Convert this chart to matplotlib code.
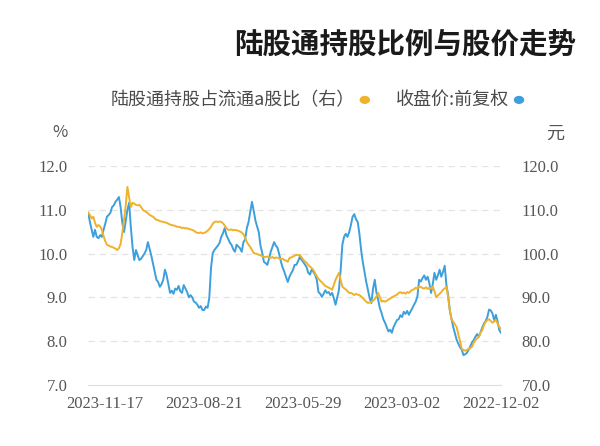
import numpy as np
import pandas as pd
import matplotlib
matplotlib.use('Agg')
import matplotlib.pyplot as plt

plt.rcParams['font.family'] = ['Noto Sans CJK SC', 'DejaVu Sans']

# trading calendar (SSE holidays removed)
holidays = ['2023-01-02', '2023-01-23', '2023-01-24', '2023-01-25', '2023-01-26',
            '2023-01-27', '2023-04-05', '2023-05-01', '2023-05-02', '2023-05-03',
            '2023-06-22', '2023-06-23', '2023-09-29', '2023-10-02', '2023-10-03',
            '2023-10-04', '2023-10-05', '2023-10-06']
days = pd.bdate_range('2022-12-02', '2023-12-01')
days = days[~days.isin(pd.to_datetime(holidays))]

tick_dates = ['2022-12-02', '2023-03-02', '2023-05-29', '2023-08-21', '2023-11-17']

# 收盘价:前复权 (元)
price = [81.9, 82.5, 84.5, 86.0, 84.8, 86.3, 87.0, 87.2, 85.5, 84.6,
         84.0, 83.1, 82.0, 81.0, 81.6, 81.0, 80.2, 79.7, 78.8, 78.0,
         77.3, 77.0, 76.8, 78.0, 78.6, 79.4, 80.3, 81.8, 83.2, 85.0,
         87.0, 90.5, 92.8, 97.2, 95.8, 94.7, 96.3, 95.0, 94.0, 95.6,
         93.0, 91.0, 93.2, 94.7, 94.0, 95.0, 94.4, 93.6, 94.0, 90.2,
         89.0, 88.3, 87.5, 86.8, 86.0, 86.9, 86.2, 86.7, 85.5, 85.9,
         85.0, 84.8, 84.0, 83.2, 81.9, 82.6, 82.2, 83.2, 84.2, 85.0,
         86.4, 87.5, 89.4, 91.0, 94.0, 92.0, 88.7, 89.8, 91.7, 93.5,
         95.8, 98.0, 100.8, 104.5, 107.2, 107.8, 109.0, 108.4, 106.5, 104.9,
         103.8, 104.5, 103.8, 102.0, 96.3, 91.7, 90.0, 88.3, 89.8, 91.0,
         90.5, 91.2, 91.0, 91.6, 90.8, 90.1, 90.8, 91.2, 94.0, 95.2,
         95.8, 96.3, 95.2, 95.6, 96.9, 97.5, 98.1, 98.6, 99.2, 98.2,
         97.4, 97.4, 96.2, 95.5, 94.7, 93.5, 94.6, 95.8, 96.8, 98.1,
         99.8, 101.3, 101.8, 102.6, 101.5, 100.4, 98.8, 97.4, 97.8, 98.1,
         100.2, 101.8, 104.9, 106.2, 107.6, 109.8, 111.8, 109.5, 107.2, 105.8,
         103.2, 102.6, 100.4, 101.2, 101.6, 102.0, 100.4, 101.0, 102.0, 102.5,
         103.4, 104.2, 105.8, 104.6, 103.8, 102.4, 101.8, 101.3, 100.8, 100.1,
         96.7, 89.9, 87.6, 87.9, 87.1, 87.1, 88.0, 87.6, 88.3, 88.8,
         89.0, 90.0, 90.5, 90.0, 91.2, 92.0, 92.8, 91.0, 91.4, 92.6,
         91.7, 92.0, 90.8, 91.5, 91.0, 93.0, 95.0, 96.3, 94.0, 93.0,
         92.4, 93.5, 94.0, 95.8, 97.6, 99.5, 101.0, 102.6, 100.8, 100.0,
         99.4, 98.8, 98.5, 99.6, 100.8, 98.5, 101.5, 106.0, 111.6, 110.0,
         107.4, 104.9, 107.0, 110.6, 112.9, 112.3, 111.8, 111.0, 110.6, 109.3,
         108.8, 108.4, 106.8, 105.4, 103.8, 104.2, 103.5, 103.8, 105.4, 103.8,
         105.5, 107.2, 109.3]

# 陆股通持股占流通a股比 (%)
share = [8.28, 8.32, 8.40, 8.48, 8.45, 8.42, 8.46, 8.50, 8.48, 8.44,
         8.36, 8.25, 8.19, 8.10, 8.06, 8.03, 7.96, 7.87, 7.84, 7.82,
         7.80, 7.78, 7.80, 7.82, 8.00, 8.15, 8.32, 8.38, 8.44, 8.50,
         8.70, 9.00, 9.24, 9.20, 9.17, 9.12, 9.08, 9.04, 9.00, 9.14,
         9.24, 9.20, 9.22, 9.19, 9.23, 9.20, 9.21, 9.24, 9.24, 9.20,
         9.22, 9.18, 9.17, 9.14, 9.10, 9.12, 9.08, 9.11, 9.09, 9.12,
         9.10, 9.06, 9.04, 9.02, 9.00, 8.97, 8.95, 8.92, 8.90, 8.92,
         8.90, 9.00, 9.10, 9.02, 8.96, 8.92, 8.90, 8.88, 8.87, 8.90,
         8.94, 8.98, 9.02, 9.05, 9.06, 9.08, 9.05, 9.08, 9.10, 9.10,
         9.14, 9.18, 9.21, 9.24, 9.40, 9.56, 9.48, 9.40, 9.28, 9.17,
         9.20, 9.22, 9.24, 9.26, 9.30, 9.34, 9.38, 9.42, 9.48, 9.55,
         9.62, 9.67, 9.70, 9.74, 9.79, 9.82, 9.86, 9.92, 9.97, 9.96,
         9.97, 9.95, 9.93, 9.91, 9.90, 9.81, 9.84, 9.85, 9.88, 9.87,
         9.89, 9.90, 9.91, 9.89, 9.92, 9.90, 9.91, 9.93, 9.92, 9.92,
         9.94, 9.96, 9.97, 9.99, 10.00, 10.01, 10.08, 10.15, 10.20, 10.26,
         10.36, 10.44, 10.48, 10.50, 10.52, 10.53, 10.54, 10.53, 10.55, 10.54,
         10.54, 10.58, 10.64, 10.69, 10.72, 10.73, 10.72, 10.73, 10.72, 10.68,
         10.61, 10.56, 10.52, 10.49, 10.47, 10.46, 10.48, 10.47, 10.47, 10.49,
         10.52, 10.54, 10.55, 10.56, 10.58, 10.57, 10.59, 10.58, 10.60, 10.61,
         10.61, 10.63, 10.64, 10.65, 10.66, 10.68, 10.70, 10.71, 10.72, 10.73,
         10.74, 10.76, 10.77, 10.80, 10.84, 10.86, 10.88, 10.92, 10.95, 10.97,
         11.00, 11.06, 11.11, 11.10, 11.11, 11.14, 11.16, 11.06, 11.28, 11.52,
         11.10, 10.77, 10.47, 10.22, 10.12, 10.08, 10.11, 10.13, 10.15, 10.16,
         10.18, 10.20, 10.28, 10.40, 10.54, 10.62, 10.65, 10.61, 10.70, 10.84,
         10.80, 10.88, 10.93]

n = min(len(days), len(price), len(share))
x = np.arange(n)
blue = '#3d9fdc'
yellow = '#efb22a'
gray = '#555555'

fig = plt.figure(figsize=(6, 4.46), dpi=100)
ax = fig.add_axes([0.147, 0.137, 0.688, 0.491])
ax2 = ax.twinx()
ax.set_zorder(2)
ax.patch.set_visible(False)

ax2.plot(x, price[:n], color=blue, lw=1.4)
ax.plot(x, share[:n], color=yellow, lw=1.4)

ax.set_xlim(n - 1, 0)
ax.set_ylim(7, 12)
ax2.set_ylim(70, 120)
ax.set_yticks([7, 8, 9, 10, 11, 12])
ax2.set_yticks([70, 80, 90, 100, 110, 120])
ax.set_yticklabels(['%.1f' % v for v in [7, 8, 9, 10, 11, 12]])
ax2.set_yticklabels(['%.1f' % v for v in [70, 80, 90, 100, 110, 120]])

pos = [int(np.where(days == pd.Timestamp(d))[0][0]) for d in tick_dates]
ax.set_xticks(pos)
ax.set_xticklabels(tick_dates)

for a in (ax, ax2):
    for s in a.spines.values():
        s.set_visible(False)
    a.tick_params(length=0, colors=gray, labelsize=12)
    for lab in a.get_xticklabels() + a.get_yticklabels():
        lab.set_family('Liberation Serif')
ax2.spines['bottom'].set_visible(True)
ax2.spines['bottom'].set_color('#dddddd')
ax.tick_params(axis='y', pad=15)
ax2.tick_params(axis='y', pad=15)
ax.tick_params(axis='x', pad=8)

for v in [8, 9, 10, 11, 12]:
    ax2.axhline(v * 10, color='#e3e3e3', lw=0.9, ls=(0, (5, 4)), zorder=0)

fig.text(0.112, 0.702, '%', color=gray, fontsize=12, ha='right', va='center')
fig.text(0.940, 0.700, '元', color=gray, fontsize=13, ha='right', va='center')

fig.text(0.960, 0.901, '陆股通持股比例与股价走势', fontsize=20.5, fontweight='bold',
         color='#1a1a1a', ha='right', va='center')

fig.patches.append(plt.Circle((0.865, 0.776), 0.0075, color=blue,
                              transform=fig.transFigure, figure=fig))
fig.text(0.848, 0.776, '收盘价:前复权', fontsize=13, color='#4a4a4a', ha='right', va='center')
fig.patches.append(plt.Circle((0.608, 0.776), 0.0075, color=yellow,
                              transform=fig.transFigure, figure=fig))
fig.text(0.592, 0.776, '陆股通持股占流通a股比（右）', fontsize=13, color='#4a4a4a',
         ha='right', va='center')

fig.savefig('out.png', dpi=100)
